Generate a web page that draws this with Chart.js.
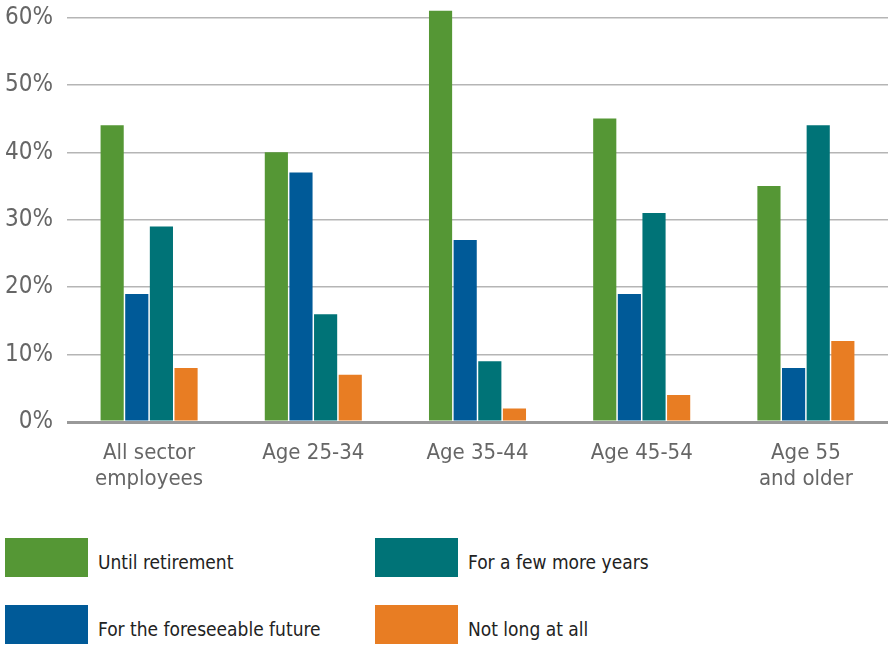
<!DOCTYPE html>
<html>
<head>
<meta charset="utf-8">
<script src="https://cdn.jsdelivr.net/npm/chart.js@4/dist/chart.umd.min.js"></script>
<style>
  html, body { margin: 0; padding: 0; background: #fff; }
  body { width: 888px; height: 646px; position: relative; overflow: hidden;
         font-family: "Liberation Sans Narrow", "DejaVu Sans Condensed", sans-serif; }
  /* canvas is pulled up a bit: Chart.js keeps room above for the top tick label */
  #wrap { position: absolute; left: 0; top: -19px; width: 888px; height: 530px; }
  .legend { position: absolute; display: flex; align-items: center; font-size: 19px; color: #222; }
  .legend span.box { display: inline-block; width: 83px; height: 39px; margin-right: 10px; }
  .legend span.txt { position: relative; top: 4px; }
</style>
</head>
<body>
<div id="wrap"><canvas id="chart"></canvas></div>
<div id="legend"></div>
<script>
const categories = [
  ['All sector', 'employees'],
  'Age 25-34',
  'Age 35-44',
  'Age 45-54',
  ['Age 55', 'and older'],
];

const seriesNames = ['Until retirement', 'For the foreseeable future', 'For a few more years', 'Not long at all'];
const untilRetirement = [44, 40, 61, 45, 35];
const foreseeableFuture = [19, 37, 27, 19, 8];
const fewMoreYears = [29, 16, 9, 31, 44];
const notLongAtAll = [8, 7, 2, 4, 12];
const yTicks = [0, 10, 20, 30, 40, 50, 60];

const colors = ['#559735', '#005a98', '#007377', '#e87d23'];
const values = [untilRetirement, foreseeableFuture, fewMoreYears, notLongAtAll];

const font = '"Liberation Sans Narrow", "DejaVu Sans Condensed", sans-serif';

const datasets = seriesNames.map((name, i) => ({
  label: name,
  data: values[i],
  backgroundColor: colors[i],
  borderWidth: 0,
  barPercentage: 0.94,
  categoryPercentage: 0.6,
}));

new Chart(document.getElementById('chart'), {
  type: 'bar',
  data: { labels: categories, datasets },
  options: {
    responsive: true,
    maintainAspectRatio: false,
    animation: false,
    layout: { padding: { top: 9, right: 0, left: 0, bottom: 0 } },
    plugins: { legend: { display: false }, tooltip: { enabled: false } },
    scales: {
      x: {
        grid: { display: false },
        border: { display: false },
        ticks: { color: '#666', font: { family: font, size: 22 }, padding: 10, maxRotation: 0 },
        afterFit: (scale) => { scale.height = 89; },
      },
      y: {
        min: 0,
        max: 61.2,
        afterBuildTicks: (scale) => { scale.ticks = yTicks.map((v) => ({ value: v })); },
        grid: {
          color: (ctx) => (ctx.tick && ctx.tick.value === 0 ? '#999' : '#b5b5b5'),
          lineWidth: (ctx) => (ctx.tick && ctx.tick.value === 0 ? 3 : 1.5),
          drawTicks: false,
        },
        border: { display: false },
        ticks: {
          color: '#666',
          font: { family: font, size: 24 },
          padding: 14,
          callback: (v) => v + '%',
        },
        afterFit: (scale) => { scale.width = 67; },
      },
    },
  },
});

// legend in two columns, like the original
const legend = document.getElementById('legend');
const slots = [
  { left: 5, top: 538 },
  { left: 5, top: 605 },
  { left: 375, top: 538 },
  { left: 375, top: 605 },
];
seriesNames.forEach((name, i) => {
  const el = document.createElement('div');
  el.className = 'legend';
  el.style.left = slots[i].left + 'px';
  el.style.top = slots[i].top + 'px';
  el.innerHTML = '<span class="box" style="background:' + colors[i] + '"></span><span class="txt">' + name + '</span>';
  legend.appendChild(el);
});
</script>
</body>
</html>
